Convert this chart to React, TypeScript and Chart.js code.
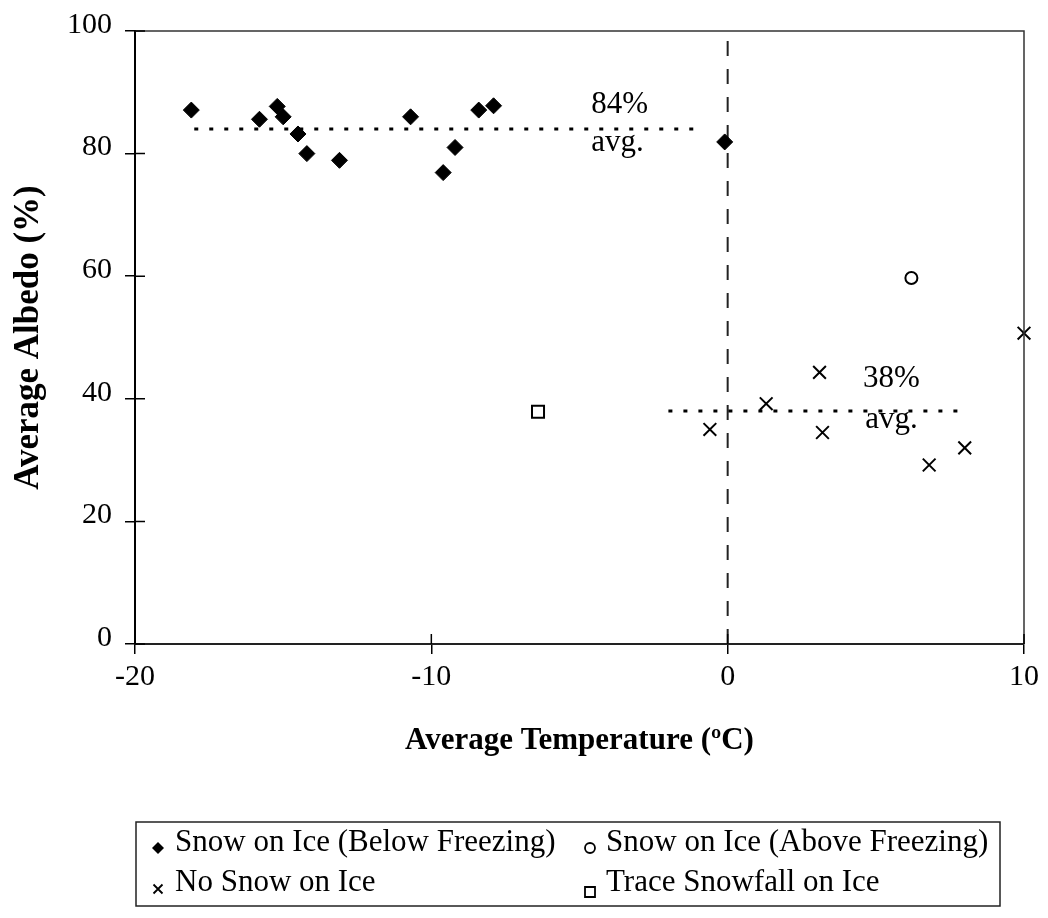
import React, { useEffect, useRef } from 'react';
import { Chart, registerables } from 'chart.js';

Chart.register(...registerables);

const SERIF = "'Liberation Serif', 'Times New Roman', serif";

// Snow on ice, air temperature below freezing
const belowFreezingTemp = [-18.1, -15.8, -15.2, -15.0, -14.5, -14.2, -13.1, -10.7, -9.6, -9.2, -8.4, -7.9, -0.1];
const belowFreezingAlbedo = [87.1, 85.6, 87.7, 86.0, 83.2, 80.0, 78.9, 86.0, 76.9, 81.0, 87.1, 87.8, 81.9];

// Snow on ice, air temperature above freezing
const aboveFreezingTemp = [6.2];
const aboveFreezingAlbedo = [59.7];

// Bare ice
const noSnowTemp = [-0.6, 1.3, 3.1, 3.2, 6.8, 8.0, 10.0];
const noSnowAlbedo = [35.0, 39.2, 44.3, 34.5, 29.2, 32.0, 50.7];

// Trace snowfall
const traceTemp = [-6.4];
const traceAlbedo = [37.9];

// Group averages and the span of temperatures they are drawn across
const snowAverage = 84;
const snowAverageSpan = [-18, -1];
const iceAverage = 38;
const iceAverageSpan = [-2, 8];

// Freezing point marker
const freezingTemp = 0;
const freezingSpan = [0, 99];

const xRange = [-20, 10];
const yRange = [0, 100];
const xStep = 10;
const yStep = 20;

const legendLabels = [
  'Snow on Ice (Below Freezing)',
  'Snow on Ice (Above Freezing)',
  'No Snow on Ice',
  'Trace Snowfall on Ice',
];

const toPoints = (xs: number[], ys: number[]) => xs.map((x, i) => ({ x, y: ys[i] }));

type Marker = 'diamond' | 'circle' | 'cross' | 'square';

function drawMarker(ctx: CanvasRenderingContext2D, kind: Marker, x: number, y: number, r: number) {
  ctx.save();
  ctx.strokeStyle = '#000';
  ctx.fillStyle = '#000';
  ctx.lineWidth = 1.8;
  ctx.beginPath();
  if (kind === 'diamond') {
    ctx.moveTo(x, y - r);
    ctx.lineTo(x + r, y);
    ctx.lineTo(x, y + r);
    ctx.lineTo(x - r, y);
    ctx.closePath();
    ctx.fill();
  } else if (kind === 'circle') {
    ctx.arc(x, y, r, 0, Math.PI * 2);
    ctx.fillStyle = '#fff';
    ctx.fill();
    ctx.stroke();
  } else if (kind === 'cross') {
    ctx.moveTo(x - r, y - r);
    ctx.lineTo(x + r, y + r);
    ctx.moveTo(x + r, y - r);
    ctx.lineTo(x - r, y + r);
    ctx.stroke();
  } else {
    ctx.rect(x - r, y - r, 2 * r, 2 * r);
    ctx.fillStyle = '#fff';
    ctx.fill();
    ctx.stroke();
  }
  ctx.restore();
}

const decorations = {
  id: 'decorations',
  afterDatasetsDraw(chart: any) {
    const { ctx, chartArea, scales } = chart;
    const xs = scales.x;
    const ys = scales.y;
    ctx.save();

    // plot frame (top and right)
    ctx.strokeStyle = '#333';
    ctx.lineWidth = 1.5;
    ctx.beginPath();
    ctx.moveTo(chartArea.left, chartArea.top);
    ctx.lineTo(chartArea.right, chartArea.top);
    ctx.lineTo(chartArea.right, chartArea.bottom);
    ctx.stroke();

    // inner halves of the tick marks
    ctx.strokeStyle = '#000';
    ctx.beginPath();
    for (let v = xRange[0]; v <= xRange[1]; v += xStep) {
      const px = xs.getPixelForValue(v);
      ctx.moveTo(px, chartArea.bottom);
      ctx.lineTo(px, chartArea.bottom - 10);
    }
    for (let v = yRange[0]; v <= yRange[1]; v += yStep) {
      const py = ys.getPixelForValue(v);
      ctx.moveTo(chartArea.left, py);
      ctx.lineTo(chartArea.left + 10, py);
    }
    ctx.stroke();

    // average annotations
    ctx.fillStyle = '#000';
    ctx.font = `31px ${SERIF}`;
    ctx.textAlign = 'left';
    ctx.textBaseline = 'alphabetic';
    ctx.fillText(`${snowAverage}%`, xs.getPixelForValue(-4.6), ys.getPixelForValue(86.7));
    ctx.fillText('avg.', xs.getPixelForValue(-4.6), ys.getPixelForValue(80.5));
    ctx.fillText(`${iceAverage}%`, xs.getPixelForValue(4.57), ys.getPixelForValue(41.9));
    ctx.fillText('avg.', xs.getPixelForValue(4.64), ys.getPixelForValue(35.3));

    // legend box
    const boxL = 136, boxT = 822, boxR = 1000, boxB = 906;
    ctx.strokeStyle = '#222';
    ctx.lineWidth = 1.5;
    ctx.strokeRect(boxL, boxT, boxR - boxL, boxB - boxT);

    const markers: Marker[] = ['diamond', 'circle', 'cross', 'square'];
    const cols = [{ mark: 158, text: 175 }, { mark: 590, text: 606 }];
    const rows = [{ base: 851, mark: 848 }, { base: 891, mark: 889 }];
    legendLabels.forEach((label, i) => {
      const col = cols[i % 2];
      const row = rows[Math.floor(i / 2)];
      const size = markers[i] === 'diamond' ? 6 : markers[i] === 'circle' ? 5 : markers[i] === 'cross' ? 4.5 : 5;
      drawMarker(ctx, markers[i], col.mark, row.mark + (markers[i] === 'square' ? 3 : 0), size);
      ctx.fillStyle = '#000';
      ctx.font = `31px ${SERIF}`;
      ctx.fillText(label, col.text, row.base);
    });

    ctx.restore();
  },
};

export default function App() {
  const canvasRef = useRef<HTMLCanvasElement | null>(null);

  useEffect(() => {
    const canvas = canvasRef.current;
    if (!canvas) return;

    const tickFont = { family: SERIF, size: 30 };

    const chart = new Chart(canvas, {
      type: 'scatter',
      data: {
        datasets: [
          {
            label: legendLabels[0],
            data: toPoints(belowFreezingTemp, belowFreezingAlbedo),
            pointStyle: 'rectRot',
            pointRadius: 8,
            backgroundColor: '#000',
            borderColor: '#000',
            borderWidth: 1,
            clip: false,
          },
          {
            label: legendLabels[1],
            data: toPoints(aboveFreezingTemp, aboveFreezingAlbedo),
            pointStyle: 'circle',
            pointRadius: 6,
            backgroundColor: '#fff',
            borderColor: '#000',
            borderWidth: 2,
            clip: false,
          },
          {
            label: legendLabels[2],
            data: toPoints(noSnowTemp, noSnowAlbedo),
            pointStyle: 'crossRot',
            pointRadius: 9,
            borderColor: '#000',
            borderWidth: 2,
            clip: false,
          },
          {
            label: legendLabels[3],
            data: toPoints(traceTemp, traceAlbedo),
            pointStyle: 'rect',
            pointRadius: 8.5,
            backgroundColor: '#fff',
            borderColor: '#000',
            borderWidth: 2,
            clip: false,
          },
          {
            label: 'snow average',
            type: 'line',
            data: [
              { x: snowAverageSpan[0], y: snowAverage },
              { x: snowAverageSpan[1], y: snowAverage },
            ],
            borderColor: '#000',
            borderWidth: 3,
            borderDash: [4, 11],
            pointRadius: 0,
            fill: false,
          },
          {
            label: 'ice average',
            type: 'line',
            data: [
              { x: iceAverageSpan[0], y: iceAverage },
              { x: iceAverageSpan[1], y: iceAverage },
            ],
            borderColor: '#000',
            borderWidth: 3,
            borderDash: [4, 11],
            pointRadius: 0,
            fill: false,
          },
          {
            label: 'freezing',
            type: 'line',
            data: [
              { x: freezingTemp, y: freezingSpan[0] },
              { x: freezingTemp, y: freezingSpan[1] },
            ],
            borderColor: '#222',
            borderWidth: 2,
            borderDash: [15, 13],
            pointRadius: 0,
            fill: false,
          },
        ],
      },
      options: {
        animation: false,
        responsive: false,
        maintainAspectRatio: false,
        layout: { padding: { top: 30, right: 24, left: 0, bottom: 0 } },
        plugins: {
          legend: { display: false },
          tooltip: { enabled: false },
        },
        scales: {
          x: {
            type: 'linear',
            min: xRange[0],
            max: xRange[1],
            afterFit: (scale: any) => {
              scale.height = 274;
            },
            ticks: {
              stepSize: xStep,
              font: tickFont,
              color: '#000',
              padding: 5,
              maxRotation: 0,
            },
            grid: {
              drawOnChartArea: false,
              drawTicks: true,
              tickLength: 10,
              color: '#000',
              lineWidth: 1.5,
            },
            border: { color: '#222', width: 2 },
            title: {
              display: true,
              text: 'Average Temperature (ºC)',
              font: { family: SERIF, size: 31, weight: 'bold' },
              color: '#000',
              padding: { top: 0, bottom: 158 },
            },
          },
          y: {
            type: 'linear',
            min: yRange[0],
            max: yRange[1],
            afterFit: (scale: any) => {
              scale.width = 135;
            },
            ticks: {
              stepSize: yStep,
              font: tickFont,
              color: '#000',
              padding: 13,
              labelOffset: -6,
            },
            grid: {
              drawOnChartArea: false,
              drawTicks: true,
              tickLength: 10,
              color: '#000',
              lineWidth: 1.5,
            },
            border: { color: '#000', width: 2 },
            title: {
              display: true,
              text: 'Average Albedo (%)',
              font: { family: SERIF, size: 35, weight: 'bold' },
              color: '#000',
              padding: { top: 8, bottom: 0 },
            },
          },
        },
      },
      plugins: [decorations],
    });

    return () => chart.destroy();
  }, []);

  return (
    <div style={{ position: 'absolute', left: 0, top: 0, width: 1048, height: 918, background: '#fff' }}>
      <canvas ref={canvasRef} width={1048} height={918} style={{ display: 'block' }} />
    </div>
  );
}
